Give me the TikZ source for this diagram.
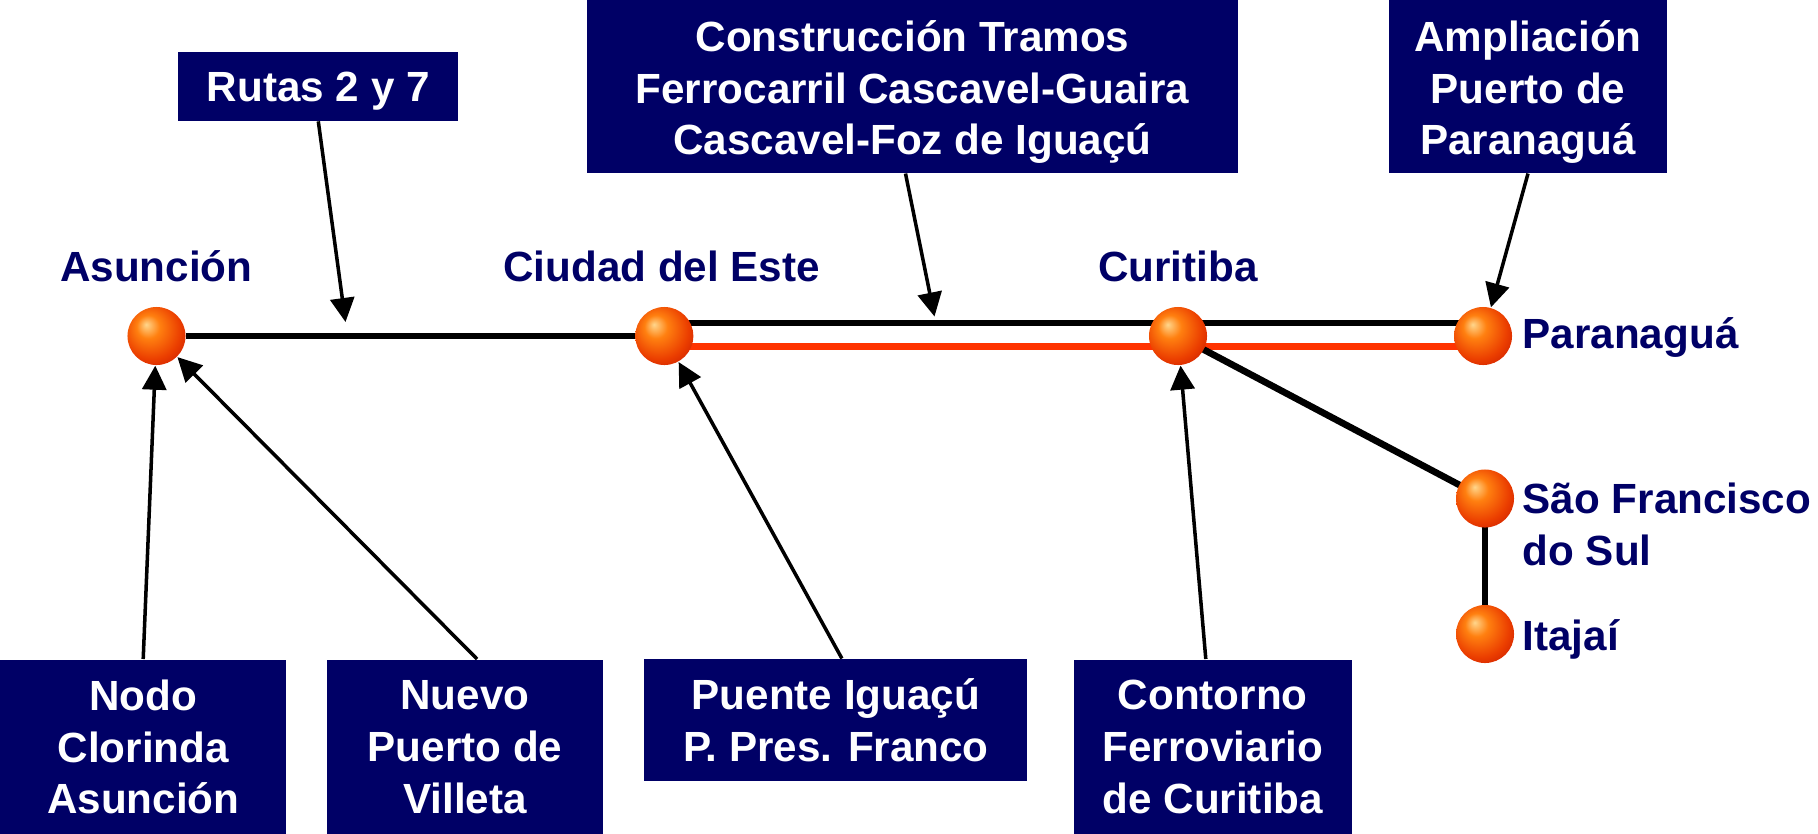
\documentclass[tikz,border=0pt]{standalone}
\usepackage{fontspec}
\setmainfont{Liberation Sans}
\usetikzlibrary{arrows.meta,backgrounds}
\definecolor{navy}{RGB}{0,0,102}
\definecolor{railred}{RGB}{255,51,0}
\definecolor{ballhi}{RGB}{255,214,140}
\definecolor{ballmid}{RGB}{255,128,16}
\definecolor{balllow}{RGB}{235,62,0}
\definecolor{balldark}{RGB}{205,30,0}
\pgfdeclareradialshading{orangeball}{\pgfpoint{-9bp}{10bp}}{color(0bp)=(ballhi); color(10bp)=(ballmid); color(25bp)=(balllow); color(35bp)=(balldark); color(50bp)=(balldark)}
\tikzset{
	port/.style={circle, minimum size=0.58cm, inner sep=0pt, shading=orangeball},
	city/.style={text=navy, font=\bfseries\fontsize{12}{14.7}\selectfont, inner sep=0pt},
	project/.style={fill=navy, text=white, font=\bfseries\fontsize{12}{14.7}\selectfont, align=center, inner sep=0pt},
	road/.style={line width=1.9pt},
	pointer/.style={->, line width=1pt},
}

\begin{document}
\begin{tikzpicture}[x=0.01cm, y=-0.01cm, >={Triangle[length=0.24cm,width=0.24cm]}]
\useasboundingbox (0,0) rectangle (1818,833);
% ports
\node[port] (asu) at (156.5,336) {};
\node[port] (cde) at (664.3,336) {};
\node[port] (cur) at (1178,336) {};
\node[port] (par) at (1483,336) {};
\node[port] (sfs) at (1485,498.5) {};
\node[port] (ita) at (1485,634) {};
% names
\node[city, anchor=base] (asulbl) at (156.3,281.7) {Asunción};
\node[city, anchor=base] (cdelbl) at (661.6,281.7) {Ciudad del Este};
\node[city, anchor=base] (curlbl) at (1178,281.7) {Curitiba};
\node[city, anchor=base west] (parlbl) at (1522,348.3) {Paranaguá};
\node[city, anchor=base west, align=left] (sfslbl) at (1522,565) {São Francisco\\do Sul};
\node[city, anchor=base west] (italbl) at (1522,650) {Itajaí};
% lines
\begin{scope}[on background layer]
\draw[road] (asu) -- (cde);
\draw[road] ([yshift=0.13cm]cde.center) -- ([yshift=0.13cm]par.center);
\draw[road, railred] ([yshift=-0.105cm]cde.center) -- ([yshift=-0.105cm]par.center);
\draw[road] (cur.center) -- (sfs.center);
\draw[road] (sfs.center) -- (ita.center);
\end{scope}
% boxes
\node[project, minimum width=2.795cm, minimum height=0.686cm, text depth=0pt] (rutas) at (318.3,86.3) {Rutas 2 y 7};
\node[project, minimum width=6.515cm, minimum height=1.727cm, text height=1.37cm, text depth=0pt] (tramos) at (912.5,86.4) {Construcción Tramos\\Ferrocarril Cascavel-Guaira\\Cascavel-Foz de Iguaçú};
\node[project, minimum width=2.78cm, minimum height=1.727cm, text height=1.37cm, text depth=0pt] (ampl) at (1528,86.4) {Ampliación\\Puerto de\\Paranaguá};
\node[project, minimum width=2.864cm, minimum height=1.745cm] (nodo) at (143.2,747) {Nodo\\Clorinda\\Asunción};
\node[project, minimum width=2.76cm, minimum height=1.745cm] (nuevo) at (465,747) {Nuevo\\Puerto de\\Villeta};
\node[project, minimum width=3.826cm, minimum height=1.215cm] (puente) at (835.9,720) {Puente Iguaçú\\P. Pres. Franco};
\node[project, minimum width=2.784cm, minimum height=1.745cm] (contorno) at (1212.8,747) {Contorno\\Ferroviario\\de Curitiba};
% arrows
\coordinate (rutastip) at (345.5,322);
\coordinate (tramostip) at (934.5,316.5);
\draw[pointer] (rutas.south) -- (rutastip);
\draw[pointer] ([xshift=-0.07cm]tramos.south) -- (tramostip);
\draw[pointer] (ampl.south) -- (par);
\draw[pointer] (nodo.north) -- (asu);
\draw[pointer] ([xshift=0.12cm]nuevo.north) -- (asu);
\draw[pointer] ([xshift=0.06cm]puente.north) -- (cde);
\draw[pointer] ([xshift=-0.07cm]contorno.north) -- (cur);
\end{tikzpicture}
\end{document}
